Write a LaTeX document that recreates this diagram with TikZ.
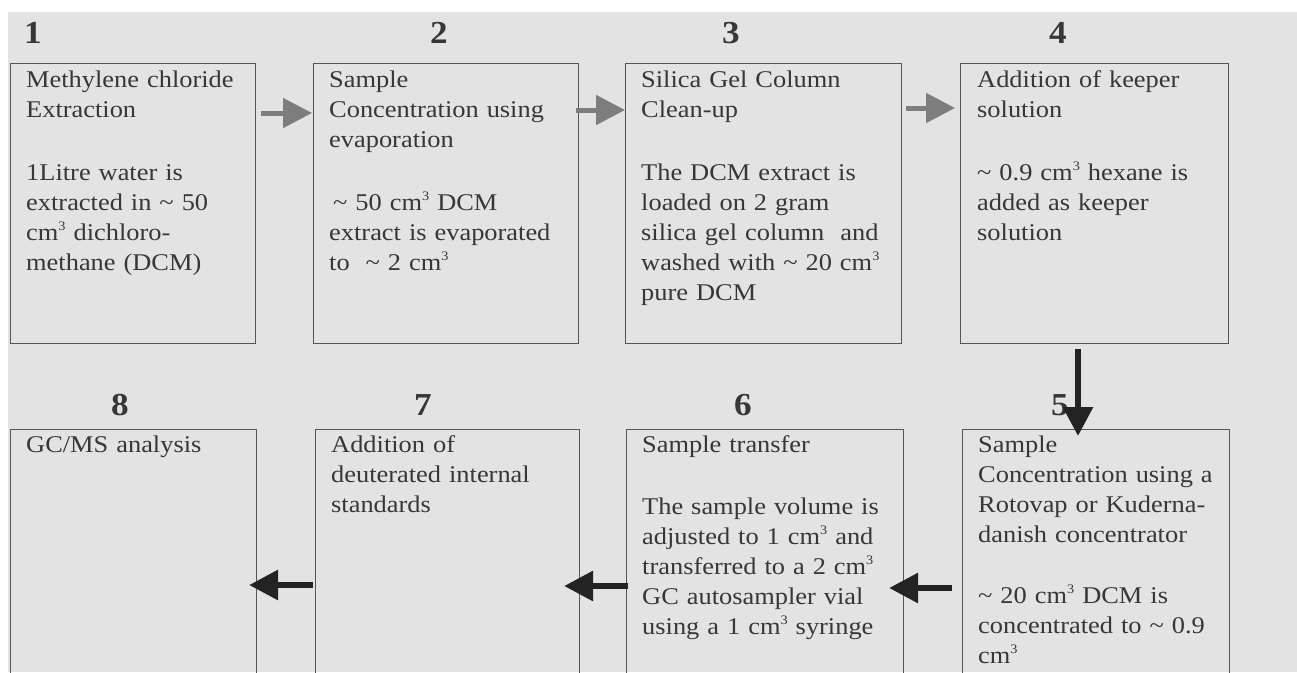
\documentclass[tikz,border=0pt]{standalone}
\usepackage{fontspec}
\setmainfont{Liberation Serif}[FakeStretch=1.1]
\usetikzlibrary{arrows.meta}
\definecolor{bgc}{RGB}{227,227,227}
\definecolor{boxc}{RGB}{85,85,85}
\definecolor{txtc}{RGB}{55,55,55}
\definecolor{garc}{RGB}{125,125,125}
\definecolor{barc}{RGB}{35,35,35}
\newcommand{\cubsup}{\raisebox{10pt}{\fontsize{13}{13}\selectfont 3}}
\begin{document}
\begin{tikzpicture}[x=1pt,y=-1pt,
  stepbox/.style={draw=boxc, line width=1.1pt, rectangle, inner sep=0pt, anchor=north west},
  txt/.style={anchor=base west, inner sep=0pt, text width=#1, align=left, font=\fontsize{24}{30}\selectfont, text=txtc},
  num/.style={anchor=base, inner sep=0pt, font=\fontsize{32}{32}\selectfont\bfseries, text=txtc},
  garrow/.style={draw=garc, line width=5pt, -{Triangle[length=29pt,width=29pt]}},
  barrow/.style={draw=barc, line width=6pt, -{Triangle[length=29pt,width=29pt]}}
]
\useasboundingbox (0,0) rectangle (1297,672);
\clip (0,0) rectangle (1297,672);
\fill[bgc] (8,12) rectangle (1297,672);

% top row boxes
\node[stepbox, minimum width=245pt, minimum height=280pt] (b1) at (10,63) {};
\node[stepbox, minimum width=265pt, minimum height=280pt] (b2) at (313,63) {};
\node[stepbox, minimum width=276pt, minimum height=280pt] (b3) at (625,63) {};
\node[stepbox, minimum width=268pt, minimum height=280pt] (b4) at (960,63) {};
% bottom row boxes
\node[stepbox, minimum width=246pt, minimum height=270pt] (b8) at (10,429) {};
\node[stepbox, minimum width=264pt, minimum height=270pt] (b7) at (315,429) {};
\node[stepbox, minimum width=277pt, minimum height=270pt] (b6) at (626,429) {};
\node[stepbox, minimum width=267pt, minimum height=270pt] (b5) at (962,429) {};

% numbers
\node[num] (n1) at (33,43) {1};
\node[num] (n2) at (439,43) {2};
\node[num] (n3) at (731,43) {3};
\node[num] (n4) at (1058,43) {4};
\node[num] (n8) at (120,415) {8};
\node[num] (n7) at (423,415) {7};
\node[num] (n6) at (743,415) {6};
\node[num] (n5) at (1060,415) {5};

% texts
\node[txt=228pt] (t1) at ([shift={(16,24)}]b1.north west)
  {Methylene chloride\\Extraction\\[33pt]1Litre water is\\extracted in \textasciitilde{} 50\\cm\cubsup{} dichloro-\\methane (DCM)};
\node[txt=248pt] (t2) at ([shift={(16,24)}]b2.north west)
  {Sample\\Concentration using\\evaporation\\[33pt]\hspace{4pt}\textasciitilde{} 50 cm\cubsup{} DCM\\extract is evaporated\\to \ \textasciitilde{} 2 cm\cubsup};
\node[txt=258pt] (t3) at ([shift={(16,24)}]b3.north west)
  {Silica Gel Column\\Clean-up\\[33pt]The DCM extract is\\loaded on 2 gram\\silica gel column\ \ and\\washed with \textasciitilde{} 20 cm\cubsup\\pure DCM};
\node[txt=250pt] (t4) at ([shift={(17,24)}]b4.north west)
  {Addition of keeper\\solution\\[33pt]\textasciitilde{} 0.9 cm\cubsup{} hexane is\\added as keeper\\solution};
\node[txt=230pt] (t8) at ([shift={(16,23)}]b8.north west) {GC/MS analysis};
\node[txt=246pt] (t7) at ([shift={(16,23)}]b7.north west)
  {Addition of\\deuterated internal\\standards};
\node[txt=259pt] (t6) at ([shift={(16,23)}]b6.north west)
  {Sample transfer\\[32pt]The sample volume is\\adjusted to 1 cm\cubsup{} and\\transferred to a 2 cm\cubsup\\GC autosampler vial\\using a 1 cm\cubsup{} syringe};
\node[txt=249pt] (t5) at ([shift={(16,23)}]b5.north west)
  {Sample\\Concentration using a\\Rotovap or Kuderna-\\danish concentrator\\[31pt]\textasciitilde{} 20 cm\cubsup{} DCM is\\concentrated to \textasciitilde{} 0.9\\cm\cubsup};

% arrows
\draw[garrow] ([shift={(5,50)}]b1.north east) -- ([shift={(-1,50)}]b2.north west);
\draw[garrow] ([shift={(-3,47)}]b2.north east) -- ([shift={(0,47)}]b3.north west);
\draw[garrow] ([shift={(4,45)}]b3.north east) -- ([shift={(-5,45)}]b4.north west);
\draw[barrow] ([shift={(118,5)}]b4.south west) -- ([shift={(116,7)}]b5.north west);
\draw[barrow] ([shift={(-10,159)}]b5.north west) -- ([shift={(-15,159)}]b6.north east);
\draw[barrow] ([shift={(2,157)}]b6.north west) -- ([shift={(-16,157)}]b7.north east);
\draw[barrow] ([shift={(-2,156)}]b7.north west) -- ([shift={(-8,156)}]b8.north east);
\end{tikzpicture}
\end{document}
